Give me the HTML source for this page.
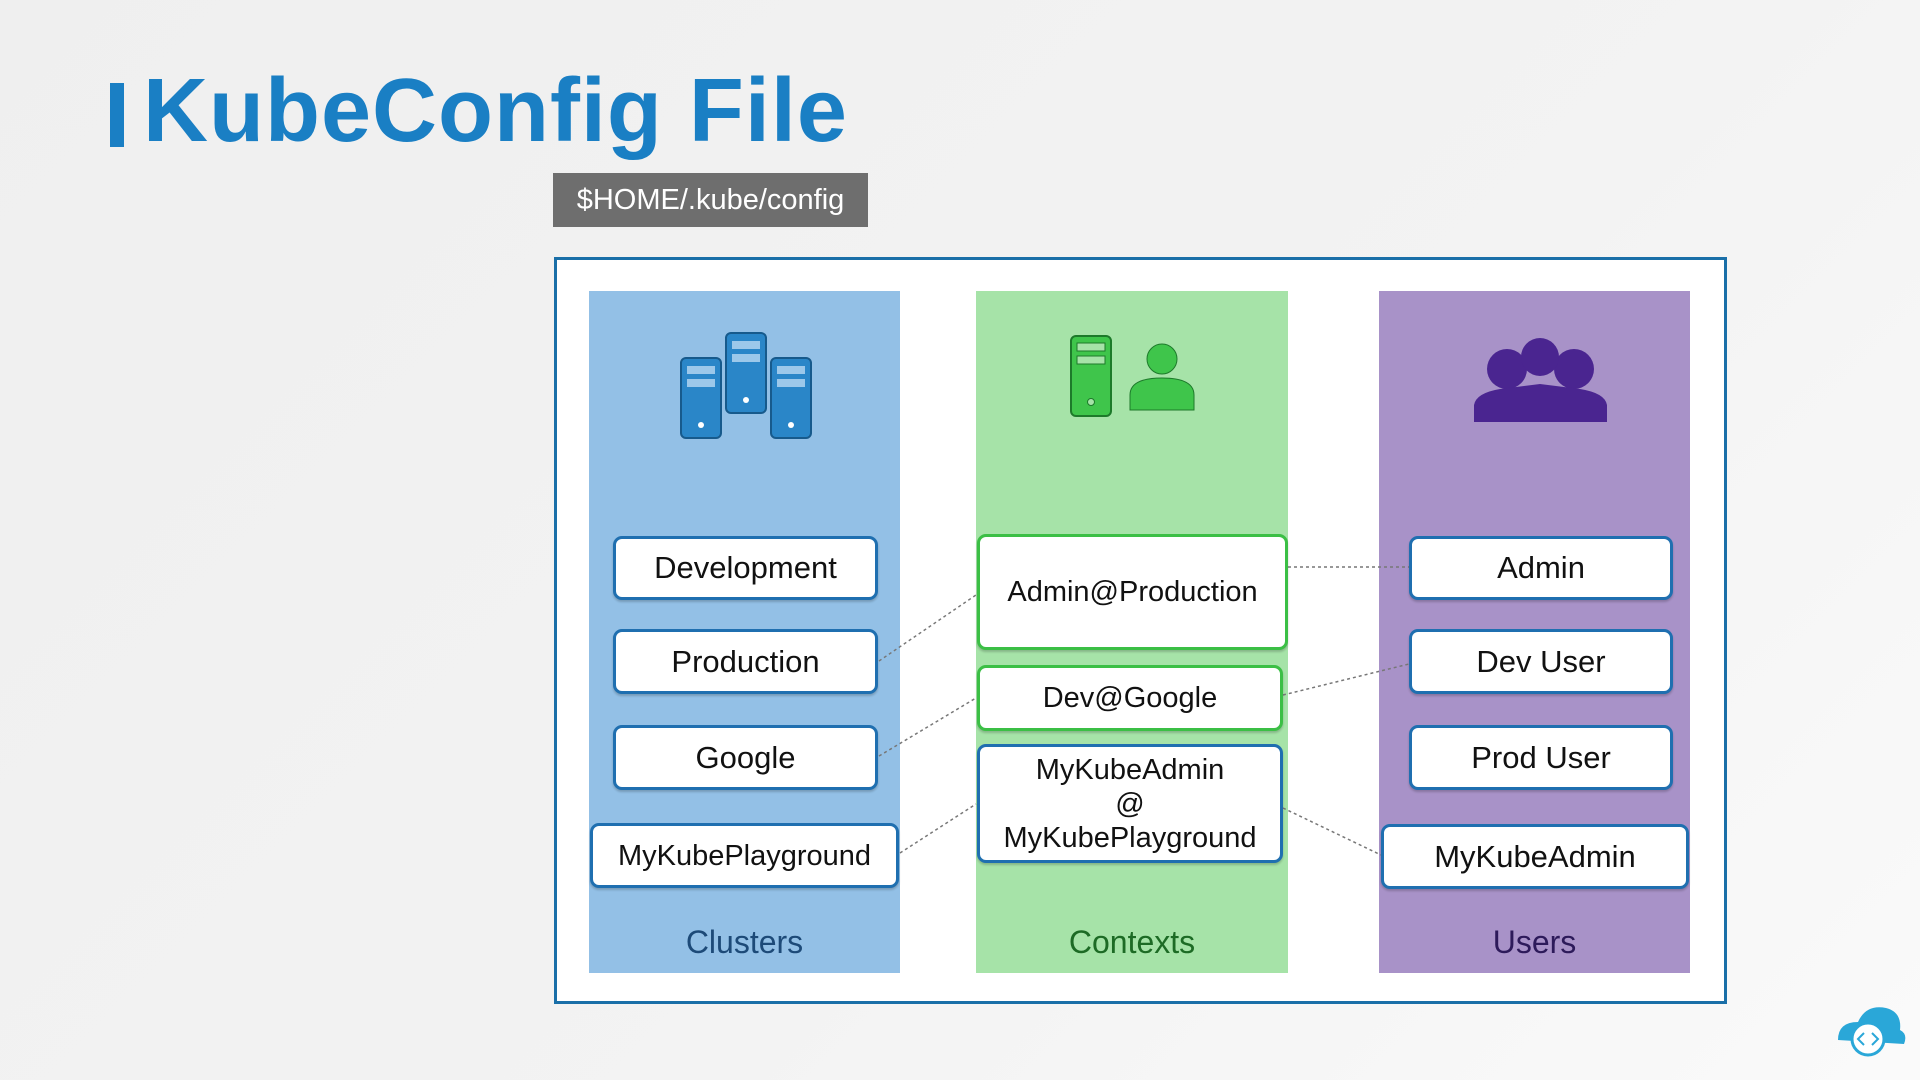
<!DOCTYPE html>
<html><head><meta charset="utf-8"><style>
html,body{margin:0;padding:0;}
body{width:1920px;height:1080px;position:relative;overflow:hidden;background:linear-gradient(135deg,#efefef,#f3f3f3 60%,#fafafa);font-family:"Liberation Sans",sans-serif;}
.a{position:absolute;}
.col{position:absolute;top:291px;height:682px;}
.box{position:absolute;background:#fff;border:3px solid #1f6fb0;border-radius:9px;box-sizing:border-box;display:flex;align-items:center;justify-content:center;text-align:center;font-size:31px;color:#111;line-height:34px;box-shadow:0 2px 2px rgba(0,0,0,.2);}
.g{border-color:#3bbf45;}
.lab{position:absolute;font-size:32px;text-align:center;}
</style></head><body>
<div class="a" style="left:110px;top:83px;width:14px;height:64px;background:#1a7fc4"></div>
<div class="a" style="left:143px;top:60px;font-size:90px;font-weight:bold;color:#1a7fc4;letter-spacing:1px;">KubeConfig File</div>
<div class="a" style="left:553px;top:173px;width:315px;height:54px;background:#6e6e6e;color:#fff;font-size:29px;line-height:54px;text-align:center;">$HOME/.kube/config</div>
<div class="a" style="left:554px;top:257px;width:1173px;height:747px;background:#fff;border:3px solid #1a6fa8;box-sizing:border-box;"></div>
<div class="col" style="left:589px;width:311px;background:#93c0e6"></div>
<div class="col" style="left:976px;width:312px;background:#a6e3a8"></div>
<div class="col" style="left:1379px;width:311px;background:#a892c8"></div>
<svg class="a" style="left:0;top:0" width="1920" height="1080">
<g stroke="#777" stroke-width="1.5" stroke-dasharray="3,3" fill="none">
<line x1="879" y1="661" x2="976" y2="595"/><line x1="879" y1="756" x2="976" y2="698"/><line x1="900" y1="853" x2="976" y2="804"/>
<line x1="1288" y1="567" x2="1409" y2="567"/><line x1="1283" y1="695" x2="1409" y2="664"/><line x1="1283" y1="808" x2="1381" y2="855"/>
</g>
<g fill="#2a86c8" stroke="#175a8c" stroke-width="2">
<rect x="681" y="358" width="40" height="80" rx="5"/><rect x="726" y="333" width="40" height="80" rx="5"/><rect x="771" y="358" width="40" height="80" rx="5"/>
</g>
<g fill="#9cc8ea"><rect x="687" y="366" width="28" height="8"/><rect x="687" y="379" width="28" height="8"/><rect x="732" y="341" width="28" height="8"/><rect x="732" y="354" width="28" height="8"/><rect x="777" y="366" width="28" height="8"/><rect x="777" y="379" width="28" height="8"/></g>
<g fill="#fff"><circle cx="701" cy="425" r="3"/><circle cx="746" cy="400" r="3"/><circle cx="791" cy="425" r="3"/></g>
<rect x="1071" y="336" width="40" height="80" rx="5" fill="#3fc54b" stroke="#1d7a2a" stroke-width="2"/>
<rect x="1077" y="343" width="28" height="8" fill="#a6e3a8" stroke="#1d7a2a"/><rect x="1077" y="356" width="28" height="8" fill="#a6e3a8" stroke="#1d7a2a"/>
<circle cx="1091" cy="402" r="3.5" fill="#a6e3a8" stroke="#1d7a2a"/>
<circle cx="1162" cy="359" r="15" fill="#3fc54b" stroke="#1d7a2a"/>
<path d="M1130 410 L1130 395 Q1130 378 1162 378 Q1194 378 1194 395 L1194 410 Z" fill="#3fc54b" stroke="#1d7a2a"/>
<g fill="#4a2590">
<circle cx="1507" cy="369" r="20"/><circle cx="1574" cy="369" r="20"/><circle cx="1540" cy="357" r="19"/>
<path d="M1474 422 L1474 405 Q1476 393 1500 389 L1540 384 L1580 389 Q1605 393 1607 405 L1607 422 Z"/>
</g>
<path d="M1838 1040 q0 -18 20 -18 q8 -18 28 -14 q16 4 14 22 q8 4 4 14 z" fill="#2aa7d8"/>
<circle cx="1868" cy="1039" r="16" fill="#fff" stroke="#2aa7d8" stroke-width="3"/>
<path d="M1864 1033 l-6 6 6 6 M1872 1033 l6 6 -6 6" stroke="#2aa7d8" stroke-width="2" fill="none"/>
</svg>
<div class="box" style="left:613px;top:536px;width:265px;height:64px">Development</div>
<div class="box" style="left:613px;top:629px;width:265px;height:65px">Production</div>
<div class="box" style="left:613px;top:725px;width:265px;height:65px">Google</div>
<div class="box" style="left:590px;top:823px;width:309px;height:65px;font-size:29px">MyKubePlayground</div>
<div class="box g" style="left:977px;top:534px;width:311px;height:116px;font-size:29px">Admin@Production</div>
<div class="box g" style="left:977px;top:665px;width:306px;height:66px;font-size:29px">Dev@Google</div>
<div class="box" style="left:977px;top:744px;width:306px;height:119px;font-size:29px">MyKubeAdmin<br>@<br>MyKubePlayground</div>
<div class="box" style="left:1409px;top:536px;width:264px;height:64px">Admin</div>
<div class="box" style="left:1409px;top:629px;width:264px;height:65px">Dev User</div>
<div class="box" style="left:1409px;top:725px;width:264px;height:65px">Prod User</div>
<div class="box" style="left:1381px;top:824px;width:308px;height:65px">MyKubeAdmin</div>
<div class="lab" style="left:589px;width:311px;top:924px;color:#1d4a78">Clusters</div>
<div class="lab" style="left:976px;width:312px;top:924px;color:#1d6b25">Contexts</div>
<div class="lab" style="left:1379px;width:311px;top:924px;color:#2d1a5a">Users</div>
</body></html>
